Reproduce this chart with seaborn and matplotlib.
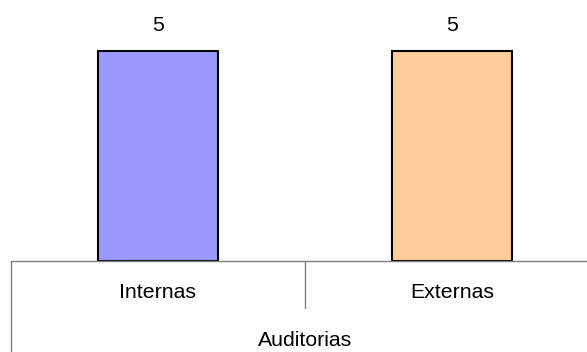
import matplotlib
matplotlib.use("Agg")
import matplotlib.pyplot as plt
import seaborn as sns
import pandas as pd

categories = ["Internas", "Externas"]
values = [5, 5]
colors = ["#9999FF", "#FFCC99"]
axis_title = "Auditorias"

sns.set_theme(style="white")
plt.rcParams["font.family"] = ["Liberation Sans", "DejaVu Sans"]

df = pd.DataFrame({"categoria": categories, "valor": values})

fig = plt.figure(figsize=(5.87, 3.52), dpi=100)
ax = fig.add_axes([11 / 587, 91 / 352, 588 / 587, 261 / 352])

sns.barplot(data=df, x="categoria", y="valor", hue="categoria",
            palette=colors, width=0.405, edgecolor="black", linewidth=1.5,
            legend=False, ax=ax, saturation=1)

ax.set_xlim(-0.5, 1.5)
ax.set_ylim(0, 6.2)
ax.set_xlabel("")
ax.set_ylabel("")
ax.set_yticks([])
ax.tick_params(axis="x", length=0, pad=16, labelsize=15.3, colors="black")
for side in ("top", "right", "left"):
    ax.spines[side].set_visible(False)
ax.spines["bottom"].set_color("#808080")
ax.spines["bottom"].set_linewidth(1.0)

# value labels above the bars
for cont in ax.containers:
    ax.bar_label(cont, labels=[f"{v:g}" for v in cont.datavalues],
                 padding=11, fontsize=15.3, color="black")

# category grouping lines under the axis
trans = ax.get_xaxis_transform()
ax.plot([-0.5, -0.5], [0, -0.35], transform=trans, color="#808080",
        lw=1.0, clip_on=False)
ax.plot([0.5, 0.5], [0, -0.18], transform=trans, color="#808080",
        lw=1.0, clip_on=False)

ax.text(0.5, -0.305, axis_title, transform=ax.transAxes, ha="center",
        va="center", fontsize=15.3, color="black")

fig.savefig("out.png", dpi=100)
